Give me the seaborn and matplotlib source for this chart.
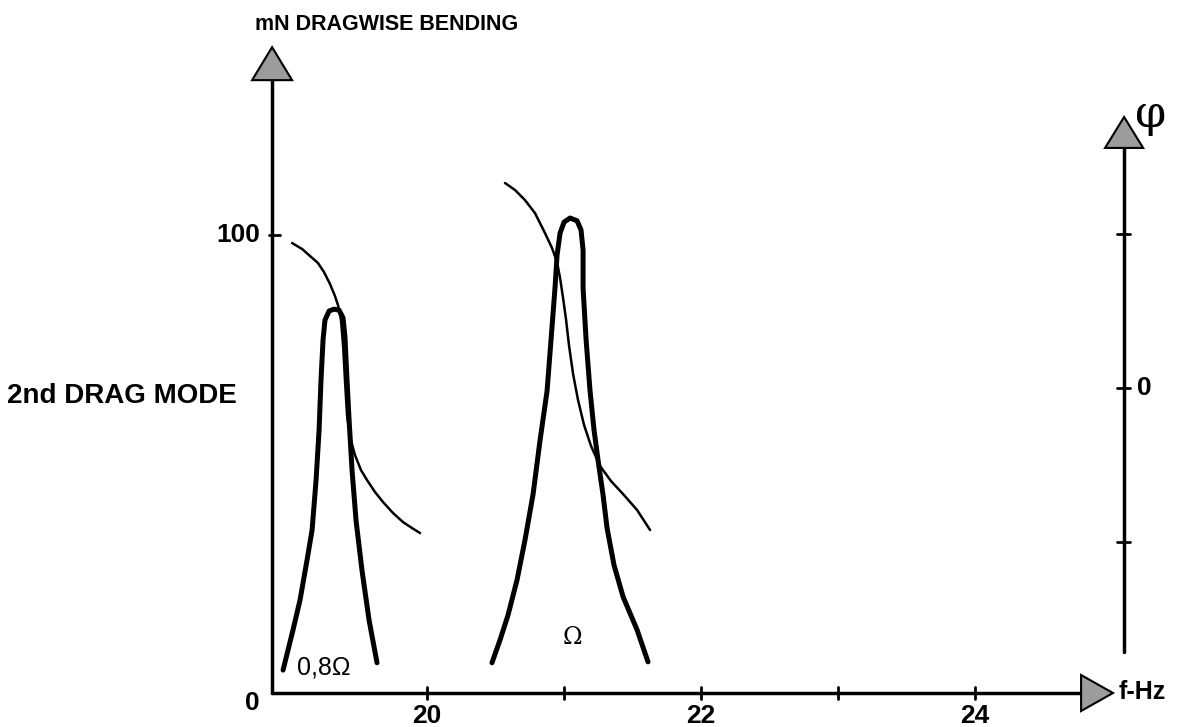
import matplotlib
matplotlib.use("Agg")
import matplotlib.pyplot as plt
import seaborn as sns
import pandas as pd

# Response at 0.8 Omega (amplitude, mN) versus frequency (Hz)
freq_08 = [18.949, 19.022, 19.073, 19.124, 19.161, 19.190, 19.212, 19.226, 19.241, 19.255,
           19.285, 19.321, 19.358, 19.387, 19.401, 19.416, 19.431, 19.453, 19.482, 19.526,
           19.577, 19.635]
amp_08 = [5.0, 13.8, 20.3, 29.0, 35.6, 46.5, 57.4, 68.3, 77.1, 81.4,
          83.4, 83.8, 83.6, 81.9, 77.7, 68.3, 59.6, 48.5, 37.6, 26.6,
          15.9, 6.6]

# Response at Omega
freq_om = [20.474, 20.533, 20.591, 20.657, 20.715, 20.774, 20.825, 20.876, 20.905, 20.934,
           20.949, 20.971, 21.000, 21.044, 21.095, 21.124, 21.139, 21.139, 21.161, 21.190,
           21.219, 21.248, 21.285, 21.314, 21.365, 21.431, 21.533, 21.613]
amp_om = [6.6, 11.6, 17.0, 24.7, 33.4, 43.4, 55.2, 65.9, 77.1, 88.4,
          95.6, 100.4, 102.8, 103.7, 103.1, 101.1, 96.7, 88.4, 77.1, 65.9,
          57.4, 50.9, 43.2, 36.0, 27.9, 21.0, 13.8, 6.8]

# Phase curves (degrees, right-hand scale)
phase_freq_08 = [19.015, 19.088, 19.146, 19.204, 19.248, 19.292, 19.328, 19.350, 19.372, 19.387,
                 19.401, 19.416, 19.438, 19.474, 19.518, 19.562, 19.620, 19.679, 19.752, 19.825,
                 19.891, 19.949]
phase_08 = [84.8, 81.3, 77.2, 73.1, 67.8, 60.8, 53.8, 48.5, 39.8, 25.1,
            4.7, -15.8, -28.7, -39.2, -48.0, -53.8, -60.8, -66.7, -73.1, -78.4,
            -81.9, -84.8]
phase_freq_om = [20.569, 20.642, 20.715, 20.788, 20.861, 20.912, 20.949, 20.971, 20.993, 21.015,
                 21.036, 21.066, 21.102, 21.146, 21.197, 21.263, 21.343, 21.431, 21.533, 21.628]
phase_om = [119.9, 115.8, 109.9, 102.3, 90.6, 81.9, 73.7, 64.3, 52.6, 39.8,
            25.1, 8.2, -7.0, -21.6, -33.9, -45.6, -54.4, -62.0, -71.3, -83.0]

# Axis ticks and labels
x_ticks = [20, 21, 22, 23, 24]
x_labels = {20: "20", 22: "22", 24: "24"}
y_ticks = [0, 100]
phi_ticks = [-90, 0, 90]

sns.set_theme(style="white")
plt.rcParams["font.family"] = ["Liberation Sans", "DejaVu Sans"]
plt.rcParams["text.color"] = "black"

fig = plt.figure(figsize=(11.8, 7.27), dpi=100)
ax = fig.add_axes([0, 0, 1, 1])
ax.set_xlim(16.883, 25.496)
ax.set_ylim(-7.42, 151.3)
ax.set_axis_off()

phi_ax = ax.twinx()
phi_ax.set_ylim(-198.2, 226.9)
phi_ax.set_axis_off()

K = "black"
GREY = "#9c9c9c"
AX_LW = 2.5
NUM = dict(fontsize=19, fontweight="bold")

# --- left (amplitude) axis with arrow head
x0 = 18.869
sns.lineplot(x=[x0, x0], y=[0, 134.5], ax=ax, color=K, lw=AX_LW, estimator=None, sort=False)
ax.fill([x0 - 0.146, x0 + 0.146, x0], [133.8, 133.8, 141.0], facecolor=GREY, edgecolor=K, lw=1.5,
        clip_on=False, zorder=5)
for yt in y_ticks[1:]:
    ax.plot([x0 - 0.02, x0 + 0.06], [yt, yt], color=K, lw=2.0)
ax.text(x0 - 0.09, 100, "100", ha="right", va="center", **NUM)
ax.text(18.723, -2.2, "0", ha="center", va="center", **NUM)

# --- frequency axis with arrow head
sns.lineplot(x=[x0, 24.80], y=[0, 0], ax=ax, color=K, lw=AX_LW, estimator=None, sort=False)
ax.fill([24.774, 24.774, 25.007], [-3.93, 3.93, 0], facecolor=GREY, edgecolor=K, lw=1.5,
        clip_on=False, zorder=5)
for xt in x_ticks:
    ax.plot([xt, xt], [-1.4, 1.4], color=K, lw=2.0)
    if xt in x_labels:
        ax.text(xt, -5.0, x_labels[xt], ha="center", va="center", **NUM)
ax.text(25.051, 0.2, "f-Hz", ha="left", va="center", fontsize=18, fontweight="bold")

# --- right (phase) axis with arrow head
xr = 25.088
sns.lineplot(x=[xr, xr], y=[-154.4, 141.0], ax=phi_ax, color=K, lw=AX_LW, estimator=None, sort=False)
phi_ax.fill([xr - 0.139, xr + 0.139, xr], [140.4, 140.4, 158.5], facecolor=GREY, edgecolor=K, lw=1.5,
            clip_on=False, zorder=5)
for pt in phi_ticks:
    phi_ax.plot([xr - 0.05, xr + 0.04], [pt, pt], color=K, lw=2.0)
phi_ax.text(25.185, 0, "0", ha="left", va="center", **NUM)
phi_ax.text(25.285, 160, "\u03c6", ha="center", va="center", fontsize=32, family="DejaVu Serif")

# --- response curves
resp = pd.concat([
    pd.DataFrame({"f": freq_08, "amp": amp_08, "case": "0.8"}),
    pd.DataFrame({"f": freq_om, "amp": amp_om, "case": "1.0"}),
])
for case, d in resp.groupby("case"):
    sns.lineplot(data=d, x="f", y="amp", ax=ax, color=K, lw=3.6, sort=False, estimator=None,
                 solid_capstyle="round", solid_joinstyle="round")

phase = pd.concat([
    pd.DataFrame({"f": phase_freq_08, "phi": phase_08, "case": "0.8"}),
    pd.DataFrame({"f": phase_freq_om, "phi": phase_om, "case": "1.0"}),
])
for case, d in phase.groupby("case"):
    sns.lineplot(data=d, x="f", y="phi", ax=phi_ax, color=K, lw=1.8, sort=False, estimator=None,
                 solid_capstyle="round", solid_joinstyle="round")

ax.text(19.051, 5.5, "0,8\u03a9", ha="left", va="center", fontsize=18)
ax.text(21.058, 12.2, "\u03a9", ha="center", va="center", fontsize=17, family="DejaVu Serif")

# --- titles
fig.text(255 / 1180, 1 - 25 / 727, "mN DRAGWISE BENDING", ha="left", va="center",
         fontsize=15.5, fontweight="bold")
fig.text(7 / 1180, 1 - 396 / 727, "2nd DRAG MODE", ha="left", va="center",
         fontsize=20, fontweight="bold")

for a in (ax, phi_ax):
    if a.get_legend() is not None:
        a.get_legend().remove()

fig.savefig("out.png", dpi=100, facecolor="white")
